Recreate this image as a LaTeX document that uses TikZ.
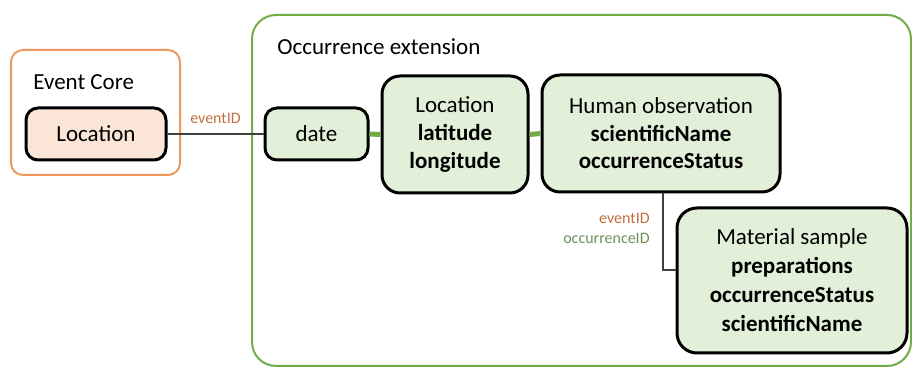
\documentclass[tikz,border=0pt]{standalone}
\usepackage{fontspec}
\setmainfont{Carlito}
\definecolor{boxgreen}{HTML}{E2EFD9}
\definecolor{linegreen}{HTML}{70AD47}
\definecolor{coreorange}{HTML}{EE9A5E}
\definecolor{peach}{HTML}{FBE5D6}
\definecolor{idbrown}{HTML}{C0703E}
\definecolor{idgreen}{HTML}{6E8F5A}
\definecolor{linkgray}{HTML}{404040}
\begin{document}
\begin{tikzpicture}[x=0.5pt,y=-0.5pt,
  entity/.style={draw=black,line width=1.5pt,fill=boxgreen,rounded corners=6pt,
    align=center,inner sep=0pt,font=\fontsize{11.5}{13.8}\selectfont},
  group/.style={rounded corners=12pt},
  idlabel/.style={font=\fontsize{8}{9.6}\selectfont,inner sep=0pt},
  greenlink/.style={draw=linegreen,line width=2.5pt},
  graylink/.style={draw=linkgray,line width=0.8pt}]
\useasboundingbox (0,0) rectangle (912,367);
% groups
\draw[group,draw=linegreen,line width=1pt] (252,15) rectangle (911,366);
\draw[draw=coreorange,line width=1pt,rounded corners=6pt] (11,50) rectangle (180,175);
\node[anchor=west,inner sep=0pt,font=\fontsize{11.5}{13.8}\selectfont] (occtitle) at (277,47) {Occurrence extension};
\node[anchor=west,inner sep=0pt,font=\fontsize{11.5}{13.8}\selectfont] (coretitle) at (33,82) {Event Core};
% nodes
\node[entity,fill=peach,minimum width=70pt,minimum height=26pt] (coreloc) at (96,134) {Location};
\node[entity,minimum width=51.5pt,minimum height=26pt] (date) at (316.5,134) {date};
\node[entity,rounded corners=9pt,minimum width=73pt,minimum height=58.5pt] (loc) at (455,134.5) {Location\\\textbf{latitude}\\\textbf{longitude}};
\node[entity,rounded corners=9pt,minimum width=119pt,minimum height=58.5pt] (human) at (661,133.5) {Human observation\\\textbf{scientificName}\\\textbf{occurrenceStatus}};
\node[entity,rounded corners=10pt,minimum width=115pt,minimum height=72.5pt,font=\fontsize{11.5}{14.5}\selectfont] (material) at (792,280.5) {Material sample\\\textbf{preparations}\\\textbf{occurrenceStatus}\\\textbf{scientificName}};
% connectors
\draw[graylink] (coreloc.east) -- (date.west);
\node[idlabel,text=idbrown] (lbl1) at (215.5,118) {eventID};
\draw[greenlink] (date.east) -- (loc.west);
\draw[greenlink] (loc.east) -- (human.west);
\coordinate (bend) at (663,270);
\draw[graylink] (human.south -| bend) -- (bend) -- (material.west |- bend);
\node[idlabel,text=idbrown,anchor=east] (lbl2) at (650,218) {eventID};
\node[idlabel,text=idgreen,anchor=east] (lbl3) at (650,238) {occurrenceID};
\end{tikzpicture}
\end{document}
